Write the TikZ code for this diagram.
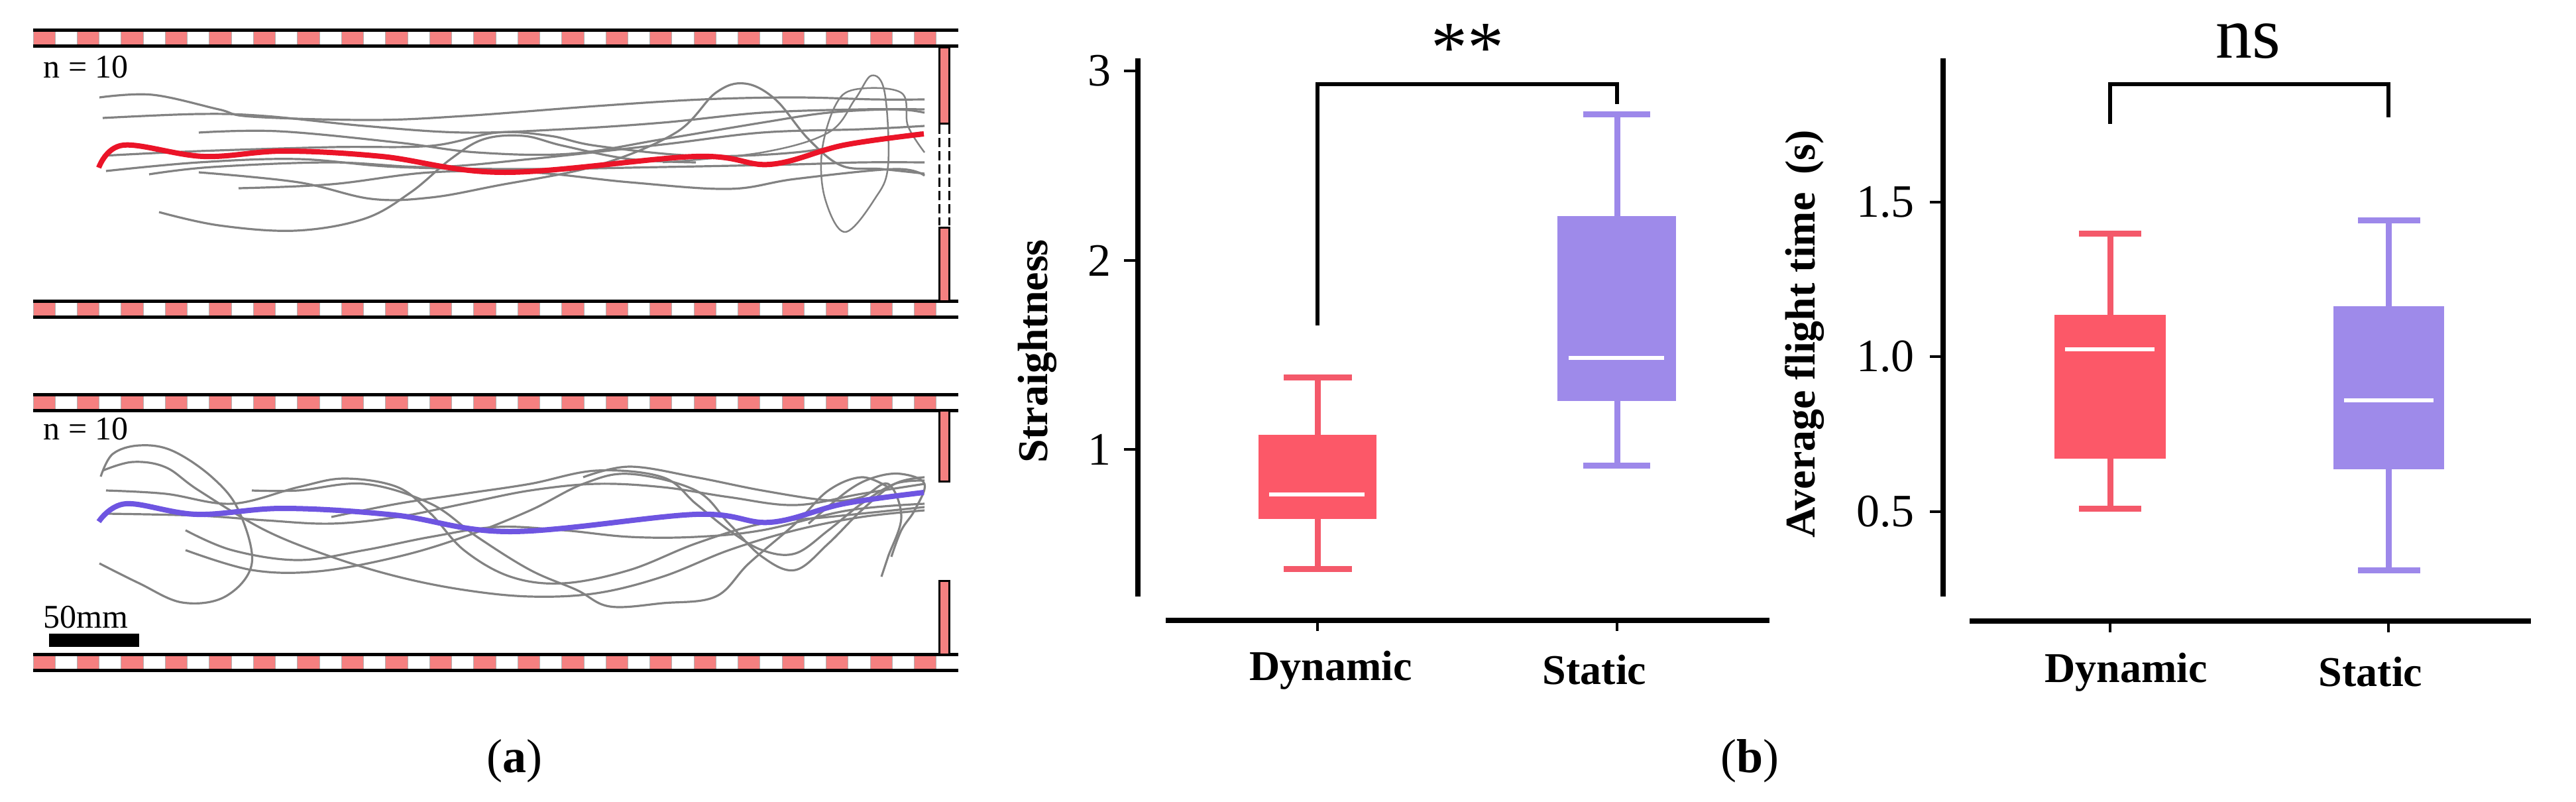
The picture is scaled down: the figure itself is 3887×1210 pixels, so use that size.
\documentclass[tikz,border=0pt]{standalone}
\usepackage{fontspec}
\setmainfont{Liberation Serif}
\definecolor{pk}{RGB}{245,128,128}
\definecolor{rbox}{RGB}{252,88,104}
\definecolor{rwh}{RGB}{242,60,80}
\definecolor{pbox}{RGB}{158,138,234}
\definecolor{pwh}{RGB}{140,115,230}
\definecolor{gr}{RGB}{130,130,130}
\definecolor{mred}{RGB}{235,20,40}
\definecolor{mblue}{RGB}{110,85,225}
\newcommand\mystrip[1]{%
  \foreach \i in {0,...,41}{%
    \ifodd\i \def\cc{white}\else\def\cc{pk}\fi
    \fill[\cc] ({50+\i*33.24},#1) rectangle ({50+(\i+1)*33.24},#1+24);
    \draw[gray!60,line width=1pt] ({50+\i*33.24},#1) -- ({50+\i*33.24},#1+24);
  }
  \draw[line width=5pt] (50,#1) -- (1446,#1);
  \draw[line width=5pt] (50,#1+24) -- (1446,#1+24);
}
\tikzset{x=1pt,y=-1pt,
  traj/.style={gr,line width=3.2pt,smooth,tension=0.6},
  axis/.style={line width=8pt},
  brk/.style={line width=6pt},
  wh/.style={line width=9pt,opacity=0.85},
  med/.style={white,line width=6pt},
  wall/.style={fill=pk,draw=black,line width=3pt},
  tick/.style={font=\fontsize{70}{70}\selectfont,anchor=east},
  lab/.style={font=\fontsize{64}{64}\selectfont\bfseries}}
\begin{document}
\begin{tikzpicture}
\useasboundingbox (0,0) rectangle (3887,1210);
% ---------- panel a top ----------
\mystrip{45}\mystrip{454}
\draw[wall] (1417,71) rectangle (1432,186);
\draw[wall] (1417,343) rectangle (1432,454);
\draw[dashed,dash pattern=on 14pt off 6pt,line width=3pt] (1417,188) -- (1417,340) (1432,188) -- (1432,340);
\node[anchor=west,font=\fontsize{50}{50}\selectfont] (n1) at (62,101) {n = 10};
\draw[traj] plot coordinates {(150,147)(230,143)(330,165)(380,176)(560,181)(700,175)(900,160)(1060,150)(1200,147)(1320,150)(1395,150)};
\draw[traj] plot coordinates {(155,178)(300,172)(400,175)(550,190)(700,200)(850,195)(1000,185)(1150,170)(1300,165)(1395,165)};
\draw[traj] plot coordinates {(300,200)(420,198)(600,215)(720,230)(860,232)(1000,210)(1150,185)(1250,170)(1350,165)(1395,170)};
\draw[traj] plot coordinates {(155,235)(300,228)(500,222)(650,220)(750,200)(830,205)(900,220)(1050,235)(1200,230)(1320,210)(1390,200)};
\draw[traj] plot coordinates {(160,258)(300,245)(450,240)(600,252)(800,255)(1000,252)(1200,248)(1300,245)(1395,245)};
\draw[traj] plot coordinates {(225,263)(320,252)(500,245)(650,252)(800,240)(1000,218)(1150,200)(1300,195)(1395,190)};
\draw[traj] plot coordinates {(360,284)(500,278)(650,260)(800,260)(950,275)(1100,285)(1200,270)(1350,255)(1395,265)};
\draw[traj] plot coordinates {(240,320)(330,340)(446,348)(550,330)(620,290)(680,240)(730,210)(790,205)(850,220)(950,240)(1050,245)};
\draw[traj] plot coordinates {(300,260)(450,275)(560,300)(650,298)(750,280)(900,250)(1020,200)(1080,140)(1124,126)(1170,150)(1220,210)(1270,250)(1330,255)(1395,262)};
\draw[traj,line width=2.5pt] plot coordinates {(1000,245)(1150,230)(1250,200)(1290,150)(1315,114)(1335,140)(1340,250)(1320,300)(1275,350)(1245,300)(1240,230)(1260,160)(1290,135)(1360,140)(1370,190)(1395,230)};
\draw[mred,line width=8pt,smooth,tension=0.6] plot coordinates {(149,253)(186,219)(307,236)(428,228)(576,236)(762,260)(1050,236)(1162,248)(1273,219)(1394,202)};
% ---------- panel a bottom ----------
\mystrip{595}\mystrip{987}
\draw[wall] (1417,619) rectangle (1432,726);
\draw[wall] (1417,876) rectangle (1432,987);
\node[anchor=west,font=\fontsize{50}{50}\selectfont] (n2) at (62,647) {n = 10};
\draw[traj] plot coordinates {(152,719)(170,685)(210,672)(260,680)(320,720)(360,770)(380,850)(340,900)(275,909)(210,880)(150,850)};
\draw[traj] plot coordinates {(155,710)(200,697)(250,705)(300,740)(400,800)(500,840)(600,870)(700,890)(800,900)(900,895)(1000,870)(1100,830)(1200,800)(1300,780)(1395,770)};
\draw[traj] plot coordinates {(160,740)(250,745)(350,760)(450,735)(520,722)(600,735)(650,775)(700,830)(770,870)(850,880)(950,860)(1050,820)(1150,790)(1250,780)(1395,765)};
\draw[traj] plot coordinates {(160,775)(300,778)(400,785)(500,790)(600,780)(700,760)(800,740)(900,730)(1000,735)(1100,750)(1200,762)(1300,745)(1395,730)};
\draw[traj] plot coordinates {(280,800)(350,830)(450,845)(550,830)(650,810)(750,795)(850,800)(950,810)(1050,810)(1150,800)(1280,770)(1395,760)};
\draw[traj] plot coordinates {(280,830)(380,860)(480,862)(600,840)(700,810)(800,770)(880,730)(950,715)(1050,740)(1100,790)(1150,840)(1200,860)(1250,820)(1300,770)(1350,730)(1395,720)};
\draw[traj] plot coordinates {(380,740)(450,740)(550,730)(650,760)(720,810)(800,860)(870,890)(920,915)(1000,910)(1080,900)(1130,850)(1200,790)(1250,740)(1300,720)(1340,735)};
\draw[traj] plot coordinates {(500,780)(600,760)(700,745)(800,730)(900,710)(1000,720)(1050,760)(1100,800)(1150,830)(1200,835)(1250,800)(1300,760)(1350,730)(1395,725)};
\draw[traj] plot coordinates {(880,720)(950,704)(1050,720)(1150,740)(1250,755)(1300,750)(1340,730)(1360,780)(1340,840)(1330,870)};
\draw[traj] plot coordinates {(1220,790)(1280,740)(1320,720)(1360,715)(1395,730)(1380,770)(1360,800)(1345,840)};
\draw[mblue,line width=8pt,smooth,tension=0.6] plot coordinates {(149,787)(190,760)(297,776)(428,767)(595,777)(771,802)(1050,776)(1162,788)(1273,760)(1394,743)};
\node[anchor=west,font=\fontsize{50}{50}\selectfont] (sb) at (62,931) {50mm};
\fill (74,956) rectangle (210,976);
\node[font=\fontsize{72}{72}\selectfont] (la) at (776,1148) {(\textbf{a})};
\node[font=\fontsize{72}{72}\selectfont] (lb) at (2640,1148) {(\textbf{b})};
% ---------- straightness ----------
\draw[axis] (1717,88) -- (1717,900);
\foreach \y/\t in {107/3,393/2,678/1}{\draw[line width=4pt] (1696,\y) -- (1717,\y); \node[tick] at (1680,\y) {\t};}
\node[lab,rotate=90] (yl1) at (1565,530) {Straightness};
\draw[axis] (1759,936) -- (2670,936);
\draw[line width=4pt] (1988,936) -- (1988,952) (2440,936) -- (2440,952);
\node[lab] (d1) at (2008,1011) {Dynamic};
\node[lab] (s1) at (2406,1011) {Static};
\fill[rbox] (1899,656) rectangle (2077,783);
\draw[rwh,wh] (1988,569) -- (1988,656) (1988,783) -- (1988,858) (1937,569) -- (2040,569) (1937,858) -- (2040,858);
\draw[med] (1915,746) -- (2059,746);
\fill[pbox] (2350,326) rectangle (2529,605);
\draw[pwh,wh] (2440,172) -- (2440,326) (2440,605) -- (2440,702) (2389,172) -- (2490,172) (2389,702) -- (2490,702);
\draw[med] (2367,540) -- (2511,540);
\draw[brk] (1988,491) -- (1988,127) -- (2440,127) -- (2440,157);
\node[font=\fontsize{110}{110}\selectfont] (st1) at (2214,72) {**};
% ---------- flight time ----------
\draw[axis] (2932,88) -- (2932,900);
\foreach \y/\t in {305/1.5,538/1.0,772/0.5}{\draw[line width=4pt] (2912,\y) -- (2932,\y); \node[tick] at (2892,\y) {\t};}
\node[lab,rotate=90] (yl2) at (2723,504) {Average flight time\ \,(s)};
\draw[axis] (2972,937) -- (3819,937);
\draw[line width=4pt] (3184,937) -- (3184,954) (3604,937) -- (3604,954);
\node[lab] (d2) at (3208,1014) {Dynamic};
\node[lab] (s2) at (3577,1014) {Static};
\fill[rbox] (3100,475) rectangle (3268,692);
\draw[rwh,wh] (3184,352) -- (3184,475) (3184,692) -- (3184,767) (3137,352) -- (3231,352) (3137,767) -- (3231,767);
\draw[med] (3116,527) -- (3251,527);
\fill[pbox] (3521,462) rectangle (3688,708);
\draw[pwh,wh] (3604,332) -- (3604,462) (3604,708) -- (3604,860) (3558,332) -- (3652,332) (3558,860) -- (3652,860);
\draw[med] (3537,604) -- (3672,604);
\draw[brk] (3184,187) -- (3184,127) -- (3604,127) -- (3604,177);
\node[font=\fontsize{110}{110}\selectfont] (ns) at (3392,62) {ns};
\end{tikzpicture}
\end{document}
